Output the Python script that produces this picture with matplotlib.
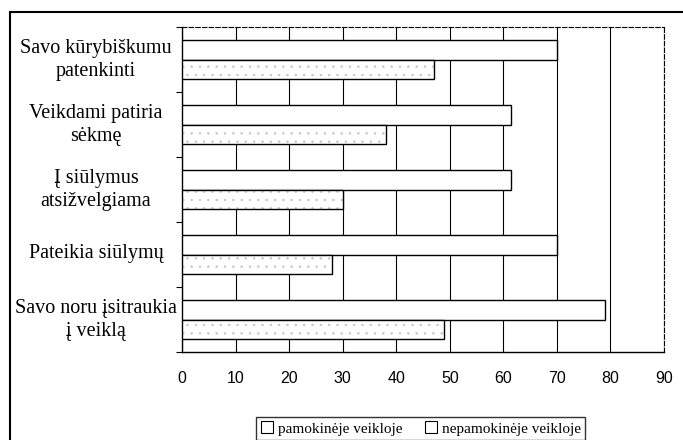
import matplotlib
matplotlib.use("Agg")
import matplotlib.pyplot as plt
from matplotlib.patches import Rectangle, Patch
import numpy as np

categories = ["Savo kūrybiškumu\npatenkinti", "Veikdami patiria\nsėkmę",
              "Į siūlymus\natsižvelgiama", "Pateikia siūlymų",
              "Savo noru įsitraukia\nį veiklą"]
pamokineje = [47, 38, 30, 28, 49]
nepamokineje = [70, 61.5, 61.5, 70, 79]
series_names = ["pamokinėje veikloje", "nepamokinėje veikloje"]
xticks = [0, 10, 20, 30, 40, 50, 60, 70, 80, 90]

plt.rcParams["hatch.linewidth"] = 0.5
fig = plt.figure(figsize=(6.83, 4.40), dpi=100)
ax = fig.add_axes([0.2665, 0.2, 0.7057, 0.7386])

y = np.arange(len(categories))
h = 0.30
# nepamokinėje: upper bar (white)
ax.barh(y - h / 2, nepamokineje, height=h, color="white", edgecolor="black",
        linewidth=1.0, zorder=3)
# pamokinėje: lower bar (stippled)
ax.barh(y + h / 2, pamokineje, height=h, color="white", edgecolor="#c4c4c4",
        hatch="..", linewidth=0, zorder=3)
ax.barh(y + h / 2, pamokineje, height=h, color="none", edgecolor="black",
        linewidth=1.0, zorder=4)

ax.set_xlim(0, 90)
ax.set_ylim(len(categories) - 0.5, -0.5)
ax.set_xticks(xticks)
ax.set_xticklabels([str(t) for t in xticks], family="Liberation Sans", fontsize=11.5)
ax.tick_params(axis="x", length=0, pad=14)
ax.set_yticks(y - 0.06)
ax.set_yticklabels(categories, family="Liberation Serif", fontsize=14.5,
                   ha="center", linespacing=1.25)
ax.tick_params(axis="y", length=0, pad=62)
ax.set_yticks(np.arange(-0.5, len(categories)), minor=True)
ax.tick_params(axis="y", which="minor", length=4, direction="out", width=0.8)
ax.grid(axis="x", color="black", linewidth=0.8, zorder=0)
ax.set_axisbelow(True)
for s in ["top", "right"]:
    ax.spines[s].set_linestyle((0, (4, 2)))
    ax.spines[s].set_linewidth(0.8)
for s in ["left", "bottom"]:
    ax.spines[s].set_linewidth(1.0)

# outer border (top and left)
fig.add_artist(Rectangle((10 / 683, -0.05), 1.1, 1 - 12 / 440 + 0.05,
                         transform=fig.transFigure, fill=False,
                         edgecolor="black", linewidth=1.5))

handles = [Patch(facecolor="white", edgecolor="black", linewidth=0.8),
           Patch(facecolor="white", edgecolor="black", linewidth=0.8)]
leg = fig.legend(handles, series_names, loc="upper center",
                 bbox_to_anchor=(0.616, 0.07), ncol=2, frameon=True,
                 fancybox=False, edgecolor="black", handlelength=0.8,
                 handleheight=0.8, handletextpad=0.3, columnspacing=1.5,
                 prop={"family": "Liberation Serif", "size": 11},
                 borderpad=0.3)
leg.get_frame().set_linewidth(1.0)

fig.savefig("out.png", dpi=100)
